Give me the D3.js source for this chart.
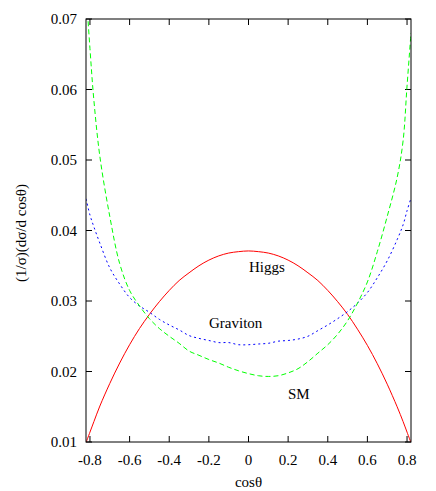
<!DOCTYPE html>
<html><head><meta charset="utf-8">
<script src="https://cdn.jsdelivr.net/npm/d3@7"></script>
<style>
html,body{margin:0;padding:0;background:#fff;}
</style></head>
<body>
<script>
const cosTheta = [-0.82,-0.80,-0.78,-0.75,-0.70,-0.65,-0.60,-0.55,-0.50,-0.45,-0.40,-0.35,-0.30,-0.25,-0.20,-0.15,-0.10,-0.05,0,0.05,0.10,0.15,0.20,0.25,0.30,0.35,0.40,0.45,0.50,0.55,0.60,0.65,0.70,0.75,0.78,0.80,0.82];
const higgs = [0.0099,0.0114,0.0129,0.0151,0.0183,0.0212,0.0238,0.0261,0.0281,0.0299,0.0315,0.0329,0.0340,0.0350,0.0358,0.0364,0.0368,0.0370,0.0371,0.0370,0.0368,0.0364,0.0358,0.0350,0.0340,0.0329,0.0315,0.0299,0.0281,0.0260,0.0237,0.0211,0.0182,0.0150,0.0129,0.0114,0.0099];
const graviton = [0.0445,0.0422,0.0405,0.0382,0.0347,0.0324,0.0305,0.0293,0.0284,0.0274,0.0266,0.0259,0.0251,0.0247,0.0244,0.0241,0.0241,0.0238,0.0238,0.0239,0.0240,0.0243,0.0244,0.0246,0.0250,0.0258,0.0266,0.0275,0.0285,0.0297,0.0312,0.0333,0.0357,0.0387,0.0408,0.0428,0.0446];
const sm = [0.0742,0.0658,0.0584,0.0505,0.0420,0.0353,0.0315,0.0293,0.0275,0.0261,0.0250,0.0240,0.0229,0.0223,0.0217,0.0212,0.0206,0.0201,0.0197,0.0194,0.0193,0.0194,0.0198,0.0204,0.0214,0.0226,0.0238,0.0253,0.0272,0.0297,0.0327,0.0370,0.0420,0.0475,0.0527,0.0605,0.0680];
const xTicks = [-0.8,-0.6,-0.4,-0.2,0,0.2,0.4,0.6,0.8];
const xTickLabels = ["-0.8","-0.6","-0.4","-0.2","0","0.2","0.4","0.6","0.8"];
const yTicks = [0.01,0.02,0.03,0.04,0.05,0.06,0.07];
const yTickLabels = ["0.01","0.02","0.03","0.04","0.05","0.06","0.07"];
const seriesNames = ["Higgs","Graviton","SM"];

const W = 436, H = 491;
const L = 86, R = 411, T = 19, B = 442;
const FONT = "Liberation Serif";
const x = d3.scaleLinear().domain([-0.82,0.82]).range([L,R]);
const y = d3.scaleLinear().domain([0.01,0.07]).range([B,T]);

const svg = d3.select("body").append("svg").attr("width",W).attr("height",H)
  .attr("font-family",FONT);
svg.append("defs").append("clipPath").attr("id","clip")
  .append("rect").attr("x",L).attr("y",T).attr("width",R-L).attr("height",B-T);

// ticks (inward, on all sides)
const tl = 6;
const g = svg.append("g").attr("stroke","#000").attr("stroke-width",1);
xTicks.forEach(v=>{
  g.append("line").attr("x1",x(v)).attr("x2",x(v)).attr("y1",B).attr("y2",B-tl);
  g.append("line").attr("x1",x(v)).attr("x2",x(v)).attr("y1",T).attr("y2",T+tl);
});
yTicks.forEach(v=>{
  g.append("line").attr("x1",L).attr("x2",L+tl).attr("y1",y(v)).attr("y2",y(v));
  g.append("line").attr("x1",R).attr("x2",R-tl).attr("y1",y(v)).attr("y2",y(v));
});

// labels
svg.append("g").selectAll("text").data(xTicks).join("text")
  .attr("x",d=>x(d)).attr("y",B+23).attr("text-anchor","middle")
  .attr("font-family",FONT).attr("font-size",15).text((d,i)=>xTickLabels[i]);
svg.append("g").selectAll("text").data(yTicks).join("text")
  .attr("x",L-9).attr("y",d=>y(d)+5).attr("text-anchor","end")
  .attr("font-family",FONT).attr("font-size",15).text((d,i)=>yTickLabels[i]);

svg.append("text").attr("x",(L+R)/2).attr("y",487).attr("text-anchor","middle")
  .attr("font-family",FONT).attr("font-size",15).text("cosθ");
svg.append("text").attr("transform","translate(26,233) rotate(-90)")
  .attr("text-anchor","middle").attr("font-family",FONT).attr("font-size",15).text("(1/σ)(dσ/d cosθ)");

// curves
const line = d3.line().x((d,i)=>x(cosTheta[i])).y(d=>y(d)).curve(d3.curveCatmullRom.alpha(0.5));
const cg = svg.append("g").attr("clip-path","url(#clip)").attr("fill","none");
cg.append("path").datum(higgs).attr("d",line).attr("stroke","#ff0000").attr("stroke-width",1);
cg.append("path").datum(graviton).attr("d",line).attr("stroke","#0000ff").attr("stroke-width",1)
  .attr("stroke-dasharray","2,3");
cg.append("path").datum(sm).attr("d",line).attr("stroke","#00ff00").attr("stroke-width",1)
  .attr("stroke-dasharray","5,3");

// frame
svg.append("rect").attr("x",L).attr("y",T).attr("width",R-L).attr("height",B-T)
  .attr("fill","none").attr("stroke","#000").attr("stroke-width",1);

// series labels
svg.append("text").attr("x",249).attr("y",272).attr("font-family",FONT).attr("font-size",15).text(seriesNames[0]);
svg.append("text").attr("x",209).attr("y",328).attr("font-family",FONT).attr("font-size",15).text(seriesNames[1]);
svg.append("text").attr("x",288).attr("y",399).attr("font-family",FONT).attr("font-size",15).text(seriesNames[2]);
</script>
</body></html>
